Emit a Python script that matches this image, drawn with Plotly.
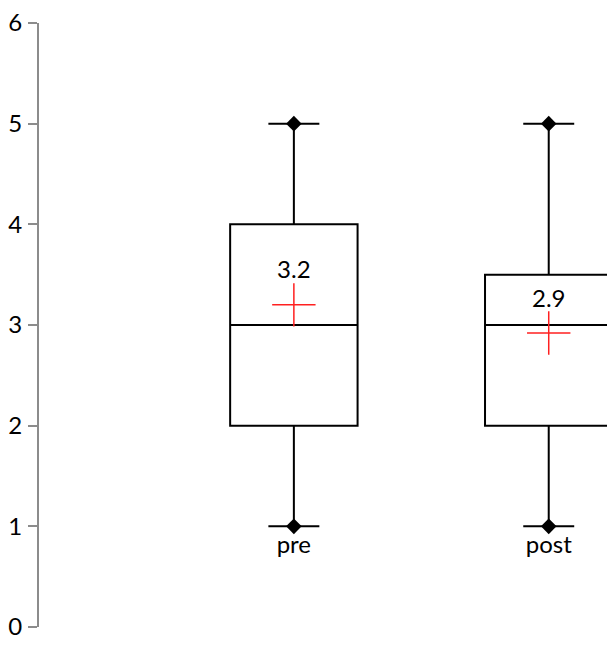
import plotly.graph_objects as go

grupos = ['pre', 'post']
minimo = [1, 1]
q1 = [2, 2]
mediana = [3, 3]
q3 = [4, 3.5]
maximo = [5, 5]
media = [3.2, 2.92]

fonte = 'Lato'
cinza = '#8c8c8c'
tam = 24

fig = go.Figure()

for i, g in enumerate(grupos):
    fig.add_trace(go.Box(
        x=[g], q1=[q1[i]], median=[mediana[i]], q3=[q3[i]],
        lowerfence=[minimo[i]], upperfence=[maximo[i]],
        width=0.5, whiskerwidth=0.4, fillcolor='rgba(0,0,0,0)',
        line=dict(color='black', width=2), boxpoints=False,
        showlegend=False, hoverinfo='skip'
    ))

# pontos de mínimo e máximo (losangos)
fig.add_trace(go.Scatter(
    x=grupos, y=maximo, mode='markers',
    marker=dict(symbol='diamond', size=12, color='black'),
    showlegend=False
))
fig.add_trace(go.Scatter(
    x=grupos, y=minimo, mode='markers+text', text=grupos,
    textposition='bottom center', textfont=dict(size=tam, color='black', family=fonte),
    marker=dict(symbol='diamond', size=12, color='black'),
    showlegend=False
))

# média
fig.add_trace(go.Scatter(
    x=grupos, y=media, mode='markers+text',
    text=[f'{m:.1f}' for m in media], textposition='top center',
    textfont=dict(size=tam, color='black', family=fonte),
    marker=dict(symbol='cross-thin-open', size=31, color='#ff2020',
                line=dict(width=1.5, color='#ff2020')),
    showlegend=False
))

fig.update_layout(
    width=607, height=637,
    margin=dict(l=31, r=0, t=15, b=18),
    plot_bgcolor='white', paper_bgcolor='white',
    font=dict(family=fonte, size=tam, color='black'),
    xaxis=dict(type='category', range=[-1, 1.26], visible=False),
    yaxis=dict(range=[0, 6], dtick=1, showgrid=False, zeroline=False,
               showline=True, linecolor=cinza, linewidth=2, automargin=False,
               ticks='outside', ticklen=9, tickwidth=2, tickcolor=cinza,
               ticklabelstandoff=1, ticklabeloverflow='allow',
               tickfont=dict(size=tam, family=fonte, color='black')),
    yaxis2=dict(range=[0, 6], dtick=1, overlaying='y', side='left',
                showgrid=False, zeroline=False, showline=False, automargin=False,
                ticks='inside', ticklen=8, tickwidth=2, tickcolor=cinza,
                showticklabels=False),
)

fig.write_html('out.html')
